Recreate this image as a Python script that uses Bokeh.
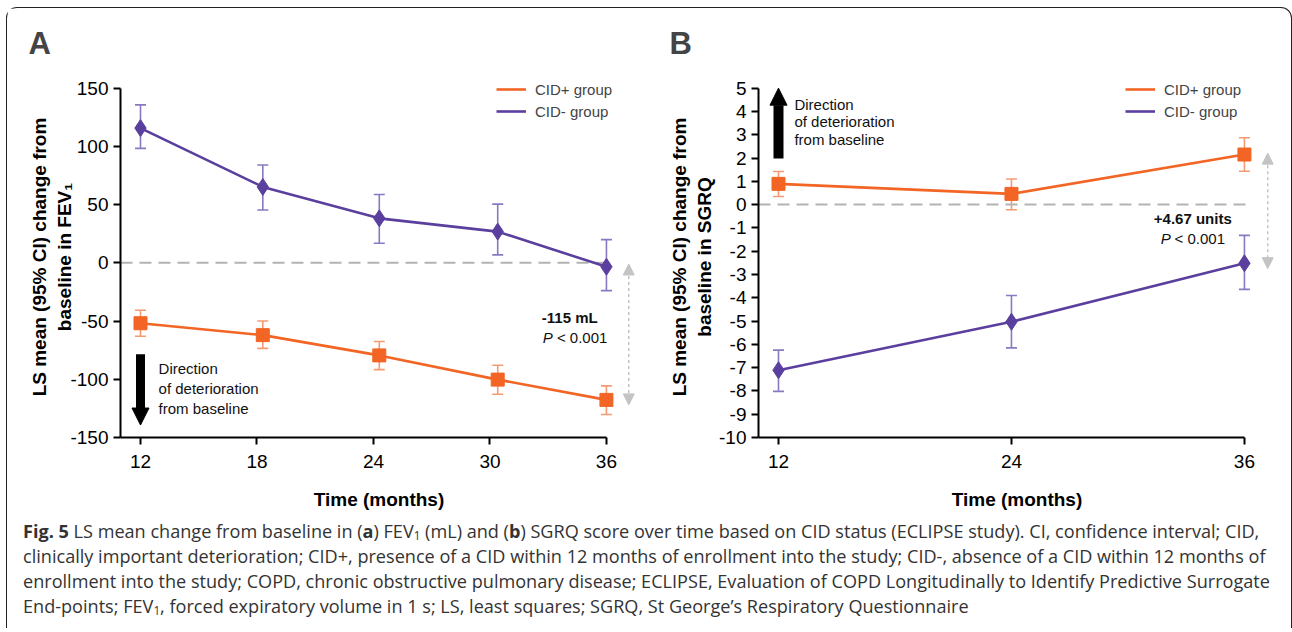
from bokeh.plotting import figure
from bokeh.models import (Range1d, Whisker, TeeHead, Arrow, NormalHead, Legend, LegendItem,
                          ColumnDataSource, FixedTicker, Div)
from bokeh.layouts import row, column
from bokeh.embed import file_html
from bokeh.resources import INLINE
from bokeh.core.properties import value

# ---------------- data ----------------
months_a = [12, 18.3, 24.3, 30.4, 36]
fev_plus = [-51.9, -62.1, -79.5, -100.3, -117.7]
fev_plus_lo = [-63.0, -73.5, -91.7, -112.8, -130.2]
fev_plus_hi = [-40.7, -49.9, -67.5, -88.0, -105.7]
fev_minus = [115.7, 65.2, 38.2, 26.8, -3.4]
fev_minus_lo = [98.3, 45.3, 16.8, 6.8, -23.9]
fev_minus_hi = [135.6, 84.0, 58.7, 50.4, 19.9]

months_b = [12, 24, 36]
sgrq_plus = [0.89, 0.46, 2.15]
sgrq_plus_lo = [0.35, -0.22, 1.43]
sgrq_plus_hi = [1.42, 1.10, 2.87]
sgrq_minus = [-7.11, -5.03, -2.52]
sgrq_minus_lo = [-8.02, -6.15, -3.64]
sgrq_minus_hi = [-6.25, -3.90, -1.32]

ticks_a_x = [12, 18, 24, 30, 36]
ticks_a_y = [-150, -100, -50, 0, 50, 100, 150]
ticks_b_x = [12, 24, 36]
ticks_b_y = list(range(-10, 6))

series_labels = ["CID+ group", "CID- group"]

FONT = "Liberation Sans"
ORANGE = "#F26524"
ORANGE_LIGHT = "#F49B74"
PURPLE = "#5B3F9E"
PURPLE_LIGHT = "#8A79C2"
GREY = "#B3B3B3"
GREY_ARROW = "#C4C4C4"

X_START, X_END = 10.97, 37.6


def make_panel(letter, ylabel, xt, yt, yr, ybounds, width, mb_left, mb_right, title_offset, ylab_standoff):
    p = figure(width=width, height=506, x_range=Range1d(X_START, X_END), y_range=Range1d(*yr),
               output_backend="svg", toolbar_location=None,
               min_border_left=mb_left, min_border_right=mb_right,
               min_border_top=66, min_border_bottom=77)
    p.outline_line_color = None
    p.grid.visible = False
    p.background_fill_color = "white"
    p.border_fill_color = "white"

    p.title.text = letter
    p.title.text_font = FONT
    p.title.text_font_size = "31px"
    p.title.text_font_style = "bold"
    p.title.align = "left"
    p.title.offset = title_offset
    p.title.standoff = 31

    for ax in (p.xaxis[0], p.yaxis[0]):
        ax.axis_line_width = 2
        ax.axis_line_color = "black"
        ax.major_tick_line_width = 2
        ax.major_tick_line_color = "black"
        ax.major_tick_in = 0
        ax.major_tick_out = 7
        ax.minor_tick_out = 0
        ax.minor_tick_in = 0
        ax.major_label_text_font = FONT
        ax.major_label_text_font_size = "19px"
        ax.major_label_text_color = "black"
        ax.axis_label_text_font = FONT
        ax.axis_label_text_font_size = "19px"
        ax.axis_label_text_font_style = "bold"
        ax.axis_label_text_color = "black"

    p.xaxis.ticker = FixedTicker(ticks=xt)
    p.xaxis.major_label_overrides = {t: str(t) for t in xt}
    p.xaxis.bounds = (X_START, 36)
    p.xaxis.major_label_standoff = 10
    p.xaxis.axis_label = "Time (months)"
    p.xaxis.axis_label_standoff = 18

    p.yaxis.ticker = FixedTicker(ticks=yt)
    p.yaxis.major_label_overrides = {t: str(t) for t in yt}
    p.yaxis.bounds = ybounds
    p.yaxis.major_label_standoff = 5
    p.yaxis.axis_label = ylabel
    p.yaxis.axis_label_standoff = ylab_standoff
    return p


def add_series(p, xs, ys, lo, hi, color, light, marker, size):
    src = ColumnDataSource(dict(x=xs, y=ys, lo=lo, hi=hi))
    w = Whisker(base="x", upper="hi", lower="lo", source=src, line_color=light, line_width=1.6,
                upper_head=TeeHead(size=11, line_color=light, line_width=1.6),
                lower_head=TeeHead(size=11, line_color=light, line_width=1.6),
                level="underlay")
    p.add_layout(w)
    ln = p.line("x", "y", source=src, line_color=color, line_width=2.6)
    p.scatter("x", "y", source=src, marker=marker, size=size, fill_color=color, line_color=color)
    return ln


def add_legend(p, r_plus, r_minus, loc):
    leg = Legend(items=[LegendItem(label=series_labels[0], renderers=[r_plus]),
                        LegendItem(label=series_labels[1], renderers=[r_minus])],
                 location=loc, label_text_font=FONT, label_text_font_size="15px",
                 glyph_width=30, glyph_height=20, label_height=20, spacing=2,
                 padding=0, margin=0, label_standoff=9, border_line_color=None,
                 background_fill_alpha=0)
    p.add_layout(leg)


def add_text(p, xs, ys, texts, style="normal", align="left"):
    p.text(x=xs, y=ys, text=texts, text_font=value(FONT), text_font_size="15px",
           text_font_style=style, text_baseline="middle", text_align=align, text_color="#111111")


# ---------------- panel A ----------------
pa = make_panel("A", "LS mean (95% CI) change from\nbaseline in FEV\u2081", ticks_a_x, ticks_a_y,
                (-150, 160), (-150, 150), 630, 113, 0, -92, -8)
pa.segment(x0=[X_START], y0=[0], x1=[36.3], y1=[0], line_color=GREY, line_width=2, line_dash="12 7")
ra_minus = add_series(pa, months_a, fev_minus, fev_minus_lo, fev_minus_hi, PURPLE, PURPLE_LIGHT, "diamond", 17)
ra_plus = add_series(pa, months_a, fev_plus, fev_plus_lo, fev_plus_hi, ORANGE, ORANGE_LIGHT, "square", 13)
add_legend(pa, ra_plus, ra_minus, (376, 316))
pa.add_layout(Arrow(x_start=37.15, y_start=-1, x_end=37.15, y_end=-122, line_color=GREY_ARROW,
                    line_width=1.5, line_dash="3 3",
                    start=NormalHead(size=11, fill_color=GREY_ARROW, line_color=GREY_ARROW),
                    end=NormalHead(size=11, fill_color=GREY_ARROW, line_color=GREY_ARROW)))
pa.add_layout(Arrow(x_start=12, y_start=-78.6, x_end=12, y_end=-139.3, line_color="black", line_width=9,
                    end=NormalHead(size=17, fill_color="black", line_color="black", line_width=1)))
add_text(pa, [32.67], [-47], ["-115 mL"], style="bold")
add_text(pa, [32.72], [-64], ["P"], style="italic")
add_text(pa, [33.45], [-64], ["< 0.001"])
add_text(pa, [12.93, 12.93, 12.93], [-90.6, -107.7, -124.8],
         ["Direction", "of deterioration", "from baseline"])

# ---------------- panel B ----------------
pb = make_panel("B", "LS mean (95% CI) change from\nbaseline in SGRQ", ticks_b_x, ticks_b_y,
                (-10, 5.5), (-10, 5), 644, 121, 6, -89, 1)
pb.segment(x0=[X_START], y0=[0], x1=[36.2], y1=[0], line_color=GREY, line_width=2, line_dash="12 7")
rb_minus = add_series(pb, months_b, sgrq_minus, sgrq_minus_lo, sgrq_minus_hi, PURPLE, PURPLE_LIGHT, "diamond", 17)
rb_plus = add_series(pb, months_b, sgrq_plus, sgrq_plus_lo, sgrq_plus_hi, ORANGE, ORANGE_LIGHT, "square", 13)
add_legend(pb, rb_plus, rb_minus, (367, 316))
pb.add_layout(Arrow(x_start=37.2, y_start=2.21, x_end=37.2, y_end=-2.75, line_color=GREY_ARROW,
                    line_width=1.5, line_dash="3 3",
                    start=NormalHead(size=11, fill_color=GREY_ARROW, line_color=GREY_ARROW),
                    end=NormalHead(size=11, fill_color=GREY_ARROW, line_color=GREY_ARROW)))
pb.add_layout(Arrow(x_start=12, y_start=1.98, x_end=12, y_end=5.0, line_color="black", line_width=10,
                    end=NormalHead(size=17, fill_color="black", line_color="black", line_width=1)))
add_text(pb, [31.33], [-0.61], ["+4.67 units"], style="bold")
add_text(pb, [31.69], [-1.46], ["P"], style="italic")
add_text(pb, [32.4], [-1.46], ["< 0.001"])
add_text(pb, [12.82, 12.82, 12.82], [4.28, 3.56, 2.79],
         ["Direction", "of deterioration", "from baseline"])

# ---------------- caption ----------------
SUB = '<span style="font-size:65%; position:relative; top:0.2em; line-height:0">1</span>'
caption_lines = [
    "<b>Fig. 5</b> LS mean change from baseline in (<b>a</b>) FEV" + SUB + " (mL) and (<b>b</b>) SGRQ score over time based on CID status (ECLIPSE study). CI, confidence interval; CID,",
    "clinically important deterioration; CID+, presence of a CID within 12 months of enrollment into the study; CID-, absence of a CID within 12 months of",
    "enrollment into the study; COPD, chronic obstructive pulmonary disease; ECLIPSE, Evaluation of COPD Longitudinally to Identify Predictive Surrogate",
    "End-points; FEV" + SUB + ", forced expiratory volume in 1 s; LS, least squares; SGRQ, St George\u2019s Respiratory Questionnaire",
]
cap_html = ('<div style="padding:0 0 0 11px; font-family:\'Open Sans\', sans-serif; '
            'font-size:18.1px; line-height:25px; color:#333; white-space:nowrap;">'
            + "<br>".join(caption_lines) + "</div>")
cap = Div(text=cap_html, width=1274, height=104)

layout = column(row(pa, pb), cap, margin=(7, 0, 0, 6),
                styles={"border": "1.5px solid #222", "border-bottom": "none",
                        "border-radius": "11px 11px 0 0"})

open("out.html", "w").write(file_html(layout, INLINE))
